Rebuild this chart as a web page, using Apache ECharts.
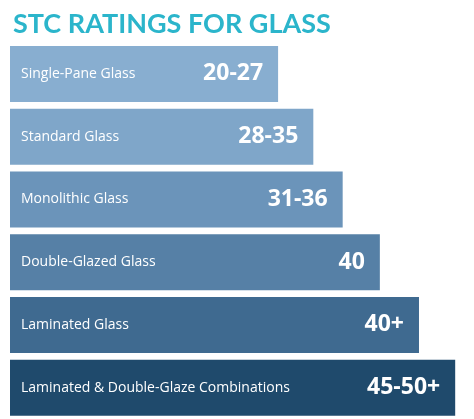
<!DOCTYPE html>
<html><head><meta charset="utf-8">
<script src="https://cdn.jsdelivr.net/npm/echarts@6/dist/echarts.min.js"></script>
<style>html,body{margin:0;padding:0;background:#fff}#c{width:474px;height:419px}</style>
</head><body><div id="c"></div>
<script>
const categories = ['Single-Pane Glass','Standard Glass','Monolithic Glass','Double-Glazed Glass','Laminated Glass','Laminated & Double-Glaze Combinations'];
const ratings = ['20-27','28-35','31-36','40','40+','45-50+'];
const barLengths = [274, 310, 340, 378, 418, 455];
const colors = ['#88aed0','#7fa6c9','#6b94ba','#5680a6','#3f6a90','#1f4a6c'];
const chart = echarts.init(document.getElementById('c'));
chart.setOption({
  animation:false,
  title:{text:'STC RATINGS FOR GLASS',left:8,top:6,textStyle:{color:'#2bb5cb',fontFamily:'Lato',fontWeight:'bold',fontSize:27}},
  grid:{left:10,right:10,top:42.5,height:378},
  xAxis:{type:'value',min:0,max:464,show:false},
  yAxis:{type:'category',data:categories,inverse:true,show:false},
  series:[
    {type:'bar',barWidth:56,data:barLengths.map((v,i)=>({value:v,itemStyle:{color:colors[i]}})),
     label:{show:true,position:'insideLeft',offset:[6,0],formatter:p=>categories[p.dataIndex],color:'#fff',fontFamily:'Open Sans',fontSize:14}},
    {type:'bar',barWidth:56,barGap:'-100%',data:barLengths,itemStyle:{color:'transparent'},
     label:{show:true,position:'insideRight',offset:[-10,0],formatter:p=>ratings[p.dataIndex],color:'#fff',fontFamily:'Open Sans',fontWeight:'bold',fontSize:23}}
  ]
});
</script></body></html>
